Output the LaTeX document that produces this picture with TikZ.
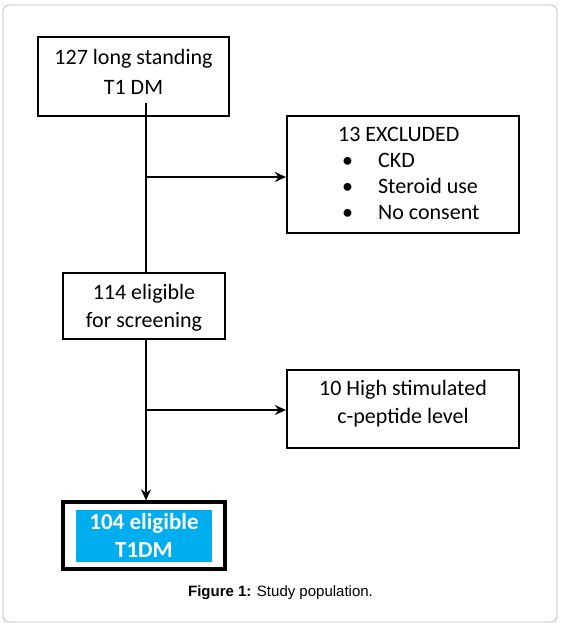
\documentclass[tikz,border=0pt]{standalone}
\usepackage{fontspec}
\setmainfont{Carlito}
\newfontfamily\captionfont{Liberation Sans}
\usepackage{tikz}
\usetikzlibrary{positioning}
\usetikzlibrary{shapes.geometric, arrows, arrows.meta}
\tikzstyle{arrow} = [line width=2.8pt,-{Stealth[length=11pt,width=10pt]}]
\tikzstyle{trunk} = [line width=2.8pt]
\tikzstyle{box} = [draw,line width=2.2pt,align=center,font=\fontsize{22}{28}\selectfont]
\definecolor{eligcyan}{RGB}{0,174,239}

\begin{document}
\begin{tikzpicture}[x=1pt,y=-1pt]
						%Frame
						\useasboundingbox (0,0) rectangle (561,627);
						\draw[gray!55,line width=0.8pt,rounded corners=6pt] (3,5) rectangle (557,622);
						
						%Nodes
						\node (rect) [box,minimum width=191pt,minimum height=79pt,font=\fontsize{22}{30}\selectfont,text depth=10pt] at (133.5,76.5) (start) {127 long standing\\T1 DM};
						\node (rect) [box,minimum width=162pt,minimum height=66pt,text depth=0pt] at (144,306) (screen) {114 eligible\\for screening};
						\node (rect) [box,minimum width=162pt,minimum height=67pt,line width=3.2pt] at (144,535.5) (final) {};
						\node [fill=eligcyan,text=white,font=\fontsize{23}{28}\selectfont\bfseries,align=center,minimum width=136pt,minimum height=52pt,inner sep=0pt] at (final.center) (finaltxt) {104 eligible\\T1DM};
						
						\node (rect) [box,minimum width=232pt,minimum height=117pt] at (403,174.5) (excl) {};
						\node [align=left,anchor=north west,font=\fontsize{22}{26}\selectfont,inner sep=0pt] at (338,127) (excltxt) {13 EXCLUDED\\
							\hspace*{4pt}\textbullet\hspace{25pt}CKD\\
							\hspace*{4pt}\textbullet\hspace{25pt}Steroid use\\
							\hspace*{4pt}\textbullet\hspace{25pt}No consent};
						\node (rect) [box,minimum width=232pt,minimum height=78pt,text depth=15pt] at (403,409) (cpep) {10 High stimulated\\c-peptide level};
						
						\coordinate (top) at (146,103);
						\coordinate (split1) at (146,177);
						\coordinate (split2) at (146,410);
						
						%Lines
						\draw[trunk] (top) -- (top |- screen.north);
						\draw[arrow] (split1) -- (split1 -| excl.west);
						\draw[arrow] (split2) -- (split2 -| cpep.west);
						\draw[arrow] (split2 |- screen.south) -- (split2 |- final.north);
						
						%Caption
						\node [font=\captionfont\fontsize{15}{17}\selectfont] at (280.5,593) (caption) {\textbf{Figure 1:} Study population.};
					\end{tikzpicture}
\end{document}
